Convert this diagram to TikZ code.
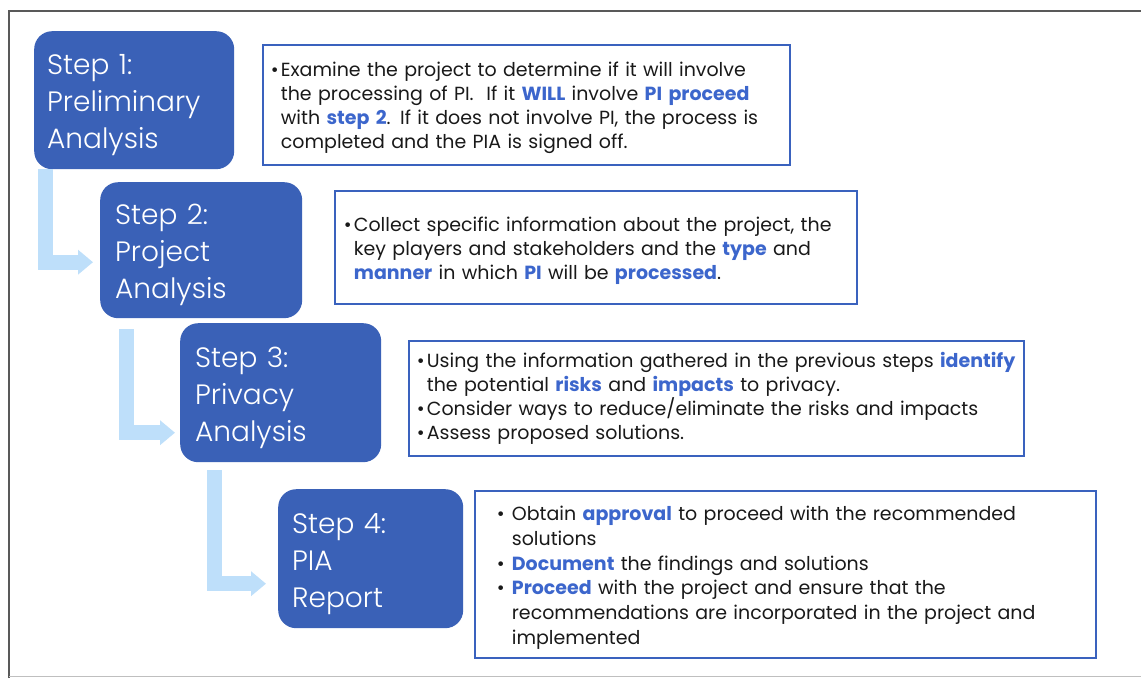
\documentclass[tikz,border=0pt]{standalone}
\usepackage{fontspec}
\setmainfont{Poppins}
\newfontfamily\stepfont{Poppins Light}
\usetikzlibrary{arrows.meta}

\definecolor{stepblue}{RGB}{58,97,183}
\definecolor{keyblue}{RGB}{60,102,204}
\definecolor{frameblue}{RGB}{58,98,190}
\definecolor{flowblue}{RGB}{190,223,250}

% highlighted words and bullet lines
\newcommand{\kw}[1]{{\bfseries\color{keyblue}#1}}
\newcommand{\itemdot}{\makebox[10pt][l]{\textbullet}}
\newcommand{\itemgap}{\hspace*{10pt}}
\newcommand{\wideitemdot}{\makebox[15pt][l]{\textbullet}}
\newcommand{\wideitemgap}{\hspace*{15pt}}

\tikzset{
	stepbox/.style={fill=stepblue, rounded corners=18pt, text=white, anchor=north west,
		align=left, inner ysep=0pt, font=\stepfont\fontsize{28}{37}\selectfont,
		execute at begin node={\rule{0pt}{30pt}}},
	infobox/.style={draw=frameblue, line width=1.8pt, anchor=north west, align=left,
		text=black!90, font=\fontsize{19}{24}\selectfont},
	flow/.style={draw=flowblue, line width=15pt, -{Triangle[width=24pt,length=15pt]}}
}

\begin{document}
\begin{tikzpicture}[x=1pt, y=-1pt]
		\useasboundingbox (0,0) rectangle (1141,678);

		% page frame
		\draw	[black!65, line width=2pt] (9,678) -- (9,11) -- (1141,11);
		\draw	[black!25, line width=1pt] (9,676) -- (1141,676);

		% steps
		\node	[stepbox, inner xsep=13pt, text width=174pt, minimum height=138pt] (step1) at (34,31)	{Step 1:\\Preliminary\\Analysis};
		\node	[stepbox, inner xsep=15pt, text width=172pt, minimum height=136pt] (step2) at (100,182)	{Step 2:\\Project\\Analysis};
		\node	[stepbox, inner xsep=15pt, text width=171pt, minimum height=139pt] (step3) at (180,323)	{Step 3:\\Privacy\\Analysis};
		\node	[stepbox, inner xsep=14pt, text width=157pt, minimum height=139pt] (step4) at (278,489)	{Step 4:\\PIA\\Report};

		% descriptions
		\node	[infobox, inner xsep=8pt, text width=511pt, minimum height=120pt] (info1) at (262,44)
				{\rule{0pt}{21pt}\itemdot Examine the project to determine if it will involve\\
				 \itemgap the processing of PI.\ \ If it \kw{WILL} involve \kw{PI proceed}\\
				 \itemgap with \kw{step 2}. If it does not involve PI, the process is\\
				 \itemgap completed and the PIA is signed off.};
		\node	[infobox, inner xsep=9pt, text width=504pt, minimum height=113pt] (info2) at (334,190)
				{\rule{0pt}{21pt}\itemdot Collect specific information about the project, the\\
				 \itemgap key players and stakeholders and the \kw{type} and\\
				 \itemgap \kw{manner} in which \kw{PI} will be \kw{processed}.};
		\node	[infobox, inner xsep=8pt, text width=599pt, minimum height=115pt] (info3) at (408,340)
				{\itemdot Using the information gathered in the previous steps \kw{identify}\\
				 \itemgap the potential \kw{risks} and \kw{impacts} to privacy.\\
				 \itemdot Consider ways to reduce/eliminate the risks and impacts\\
				 \itemdot Assess proposed solutions.};
		\node	[infobox, inner xsep=22pt, text width=577pt, minimum height=167pt,
				 font=\fontsize{19}{24.7}\selectfont] (info4) at (474,490)
				{\rule{0pt}{21pt}\wideitemdot Obtain \kw{approval} to proceed with the recommended\\
				 \wideitemgap solutions\\
				 \wideitemdot \kw{Document} the findings and solutions\\
				 \wideitemdot \kw{Proceed} with the project and ensure that the\\
				 \wideitemgap recommendations are incorporated in the project and\\
				 \wideitemgap implemented};

		% flow arrows
		\draw	[flow, shorten >=7pt]				([xshift=11pt]step1.south west) |- ([yshift=-12pt]step2.west);
		\draw	[flow, shorten <=11pt, shorten >=5pt]	([xshift=26pt]step2.south west) |- ([yshift=-40pt]step3.west);
		\draw	[flow, shorten <=8pt, shorten >=12pt]	([xshift=34pt]step3.south west) |- ([yshift=-25pt]step4.west);
	\end{tikzpicture}
\end{document}
